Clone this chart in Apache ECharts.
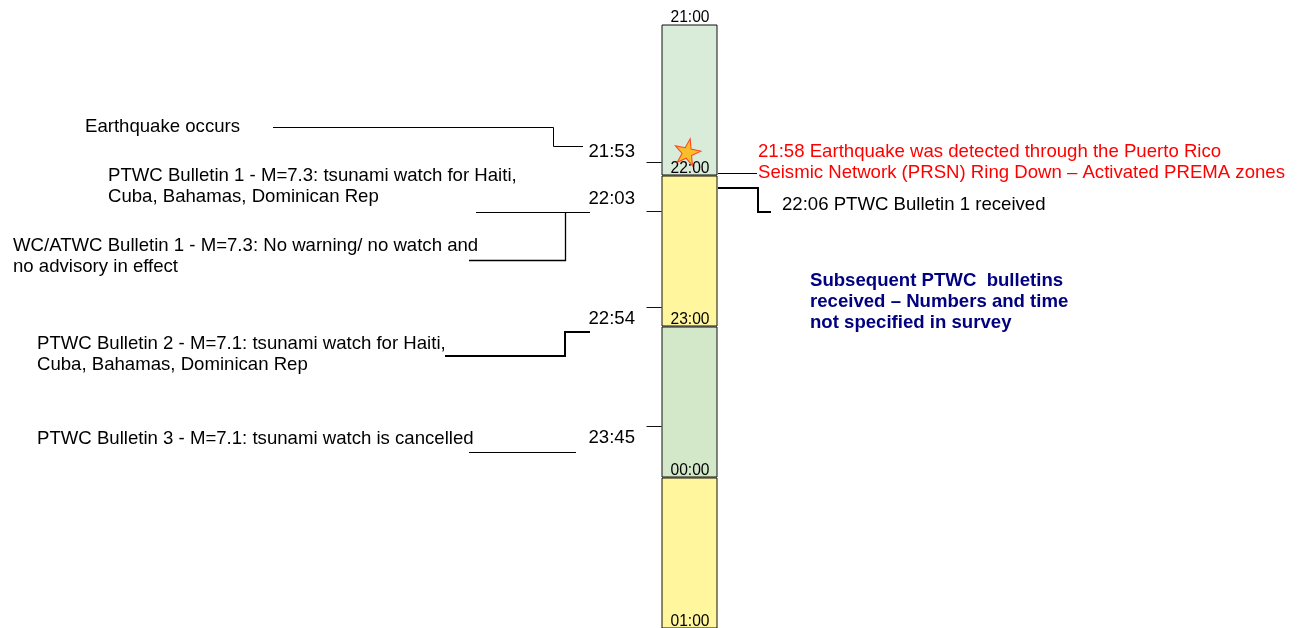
<!DOCTYPE html>
<html><head><meta charset="utf-8">
<script src="https://cdn.jsdelivr.net/npm/echarts@6/dist/echarts.min.js"></script>
<style>html,body{margin:0;padding:0;background:#fff;overflow:hidden}#c{width:1304px;height:640px}</style>
</head><body><div id="c"></div>
<script>
// ---------------- data ----------------
const hourLabels = ['21:00', '22:00', '23:00', '00:00', '01:00'];
const hourMinutes = [0, 60, 120, 180, 240];          // minutes after 21:00
const bandMinutes = [60, 60, 60, 60];                 // one band per hour
const eventTimes = ['21:53', '22:03', '22:54', '23:45'];
const eventMarks = [54.8, 74.3, 112.1, 159.7];        // tick positions on the bar as drawn (minutes after 21:00)
const detectionMark = [50];                           // star (21:58 detection) as drawn
const leftNotes = [
  'Earthquake occurs',
  'PTWC Bulletin 1 - M=7.3: tsunami watch for Haiti,\nCuba, Bahamas, Dominican Rep',
  'WC/ATWC Bulletin 1 - M=7.3: No warning/ no watch and\nno advisory in effect',
  'PTWC Bulletin 2 - M=7.1: tsunami watch for Haiti,\nCuba, Bahamas, Dominican Rep',
  'PTWC Bulletin 3 - M=7.1: tsunami watch is cancelled'
];
const detectionNote = '21:58 Earthquake was detected through the Puerto Rico\nSeismic Network (PRSN) Ring Down \u2013 Activated PREMA zones';
const receivedNote = '22:06 PTWC Bulletin 1 received';
const summaryNote = 'Subsequent PTWC  bulletins\nreceived \u2013 Numbers and time\nnot specified in survey';

// ---------------- layout & style ----------------
const FONT = '"Liberation Sans", Arial, sans-serif';
const TXT = 18.6, LH = 21;
const bandColors = ['#d9ebd9', '#fff69e', '#d2e8c8', '#fff69e'];
const timeLabelDy = [-10.5, -12.5, 12.5, 11.5];
const leftNotePos = [[85, 127], [108, 176], [13, 246], [37, 344], [37, 439]];
const detectionPos = [758, 152], receivedPos = [782, 205], summaryPos = [810, 281];
const connectors = [
  {pts: [[273, 127.5], [553.5, 127.5], [553.5, 146.5], [583, 146.5]], w: 1},
  {pts: [[476, 212.5], [590, 212.5]], w: 1},
  {pts: [[469, 260.5], [565.5, 260.5], [565.5, 212]], w: 1.3},
  {pts: [[445, 356], [565, 356], [565, 332], [590, 332]], w: 2},
  {pts: [[469, 452.5], [576, 452.5]], w: 1},
  {pts: [[718, 173.5], [757, 173.5]], w: 1},
  {pts: [[718, 188], [758, 188], [758, 212], [771, 212]], w: 2}
];

const chart = echarts.init(document.getElementById('c'), null, {renderer: 'canvas'});

const bandSeries = bandMinutes.map((v, i) => ({
  type: 'bar', stack: 'timeline', data: [v], barWidth: '100%', silent: true, clip: false,
  itemStyle: {color: bandColors[i], borderColor: '#111', borderWidth: 1}
}));

function noteText(t, x, y, fill, bold) {
  return {
    type: 'text', z: 10, silent: true,
    style: {text: t, x: x, y: y - LH / 2, fill: fill || '#000', font: (bold ? 'bold ' : '') + TXT + 'px ' + FONT,
            lineHeight: LH, align: 'left', verticalAlign: 'top'}
  };
}

const graphics = [];
connectors.forEach(c => graphics.push({
  type: 'polyline', z: 5, silent: true,
  shape: {points: c.pts},
  style: {stroke: '#000', lineWidth: c.w, fill: null}
}));
leftNotes.forEach((t, i) => graphics.push(noteText(t, leftNotePos[i][0], leftNotePos[i][1])));
graphics.push(noteText(detectionNote, detectionPos[0], detectionPos[1], '#ff0000'));
graphics.push(noteText(receivedNote, receivedPos[0], receivedPos[1]));
graphics.push(noteText(summaryNote, summaryPos[0], summaryPos[1], '#000080', true));

chart.setOption({
  animation: false,
  backgroundColor: '#fff',
  grid: {left: 661.5, top: 24.5, width: 56, height: 604},
  xAxis: {type: 'category', data: ['timeline'], show: false},
  yAxis: {type: 'value', min: 0, max: 240, inverse: true, show: false},
  series: [
    ...bandSeries,
    {
      type: 'custom', name: 'hours', silent: true, z: 6, clip: false,
      data: hourMinutes.map(m => [0, m]),
      renderItem: (params, api) => {
        const p = api.coord([0, api.value(1)]);
        return {type: 'text', x: p[0] + 0.5, y: p[1] + 1.5,
          style: {text: hourLabels[params.dataIndex], align: 'center', verticalAlign: 'bottom',
                  font: '15.6px ' + FONT, fill: '#000'}};
      }
    },
    {
      type: 'custom', name: 'events', silent: true, z: 6, clip: false,
      data: eventMarks.map(m => [0, m]),
      renderItem: (params, api) => {
        const p = api.coord([0, api.value(1)]);
        const half = api.size([1, 0])[0] / 2;
        const left = p[0] - half;
        const y = Math.round(p[1]) + 0.5;
        return {type: 'group', children: [
          {type: 'line', shape: {x1: left - 15, y1: y, x2: left, y2: y}, style: {stroke: '#111', lineWidth: 1}},
          {type: 'text', x: left - 26.5, y: p[1] + timeLabelDy[params.dataIndex],
           style: {text: eventTimes[params.dataIndex], align: 'right', verticalAlign: 'middle',
                   font: TXT + 'px ' + FONT, fill: '#000'}}
        ]};
      }
    },
    {
      type: 'scatter', name: 'detected', silent: true, z: 8,
      data: detectionMark.map(m => [0, m]),
      symbol: 'path://M50,0 L61,35 L98,35 L68,57 L79,91 L50,70 L21,91 L32,57 L2,35 L39,35 Z',
      symbolSize: 26, symbolRotate: -12, symbolOffset: [-2, 1],
      itemStyle: {color: '#ffb300', borderColor: '#ff2000', borderWidth: 1}
    }
  ],
  graphic: graphics
});
</script>
</body></html>
